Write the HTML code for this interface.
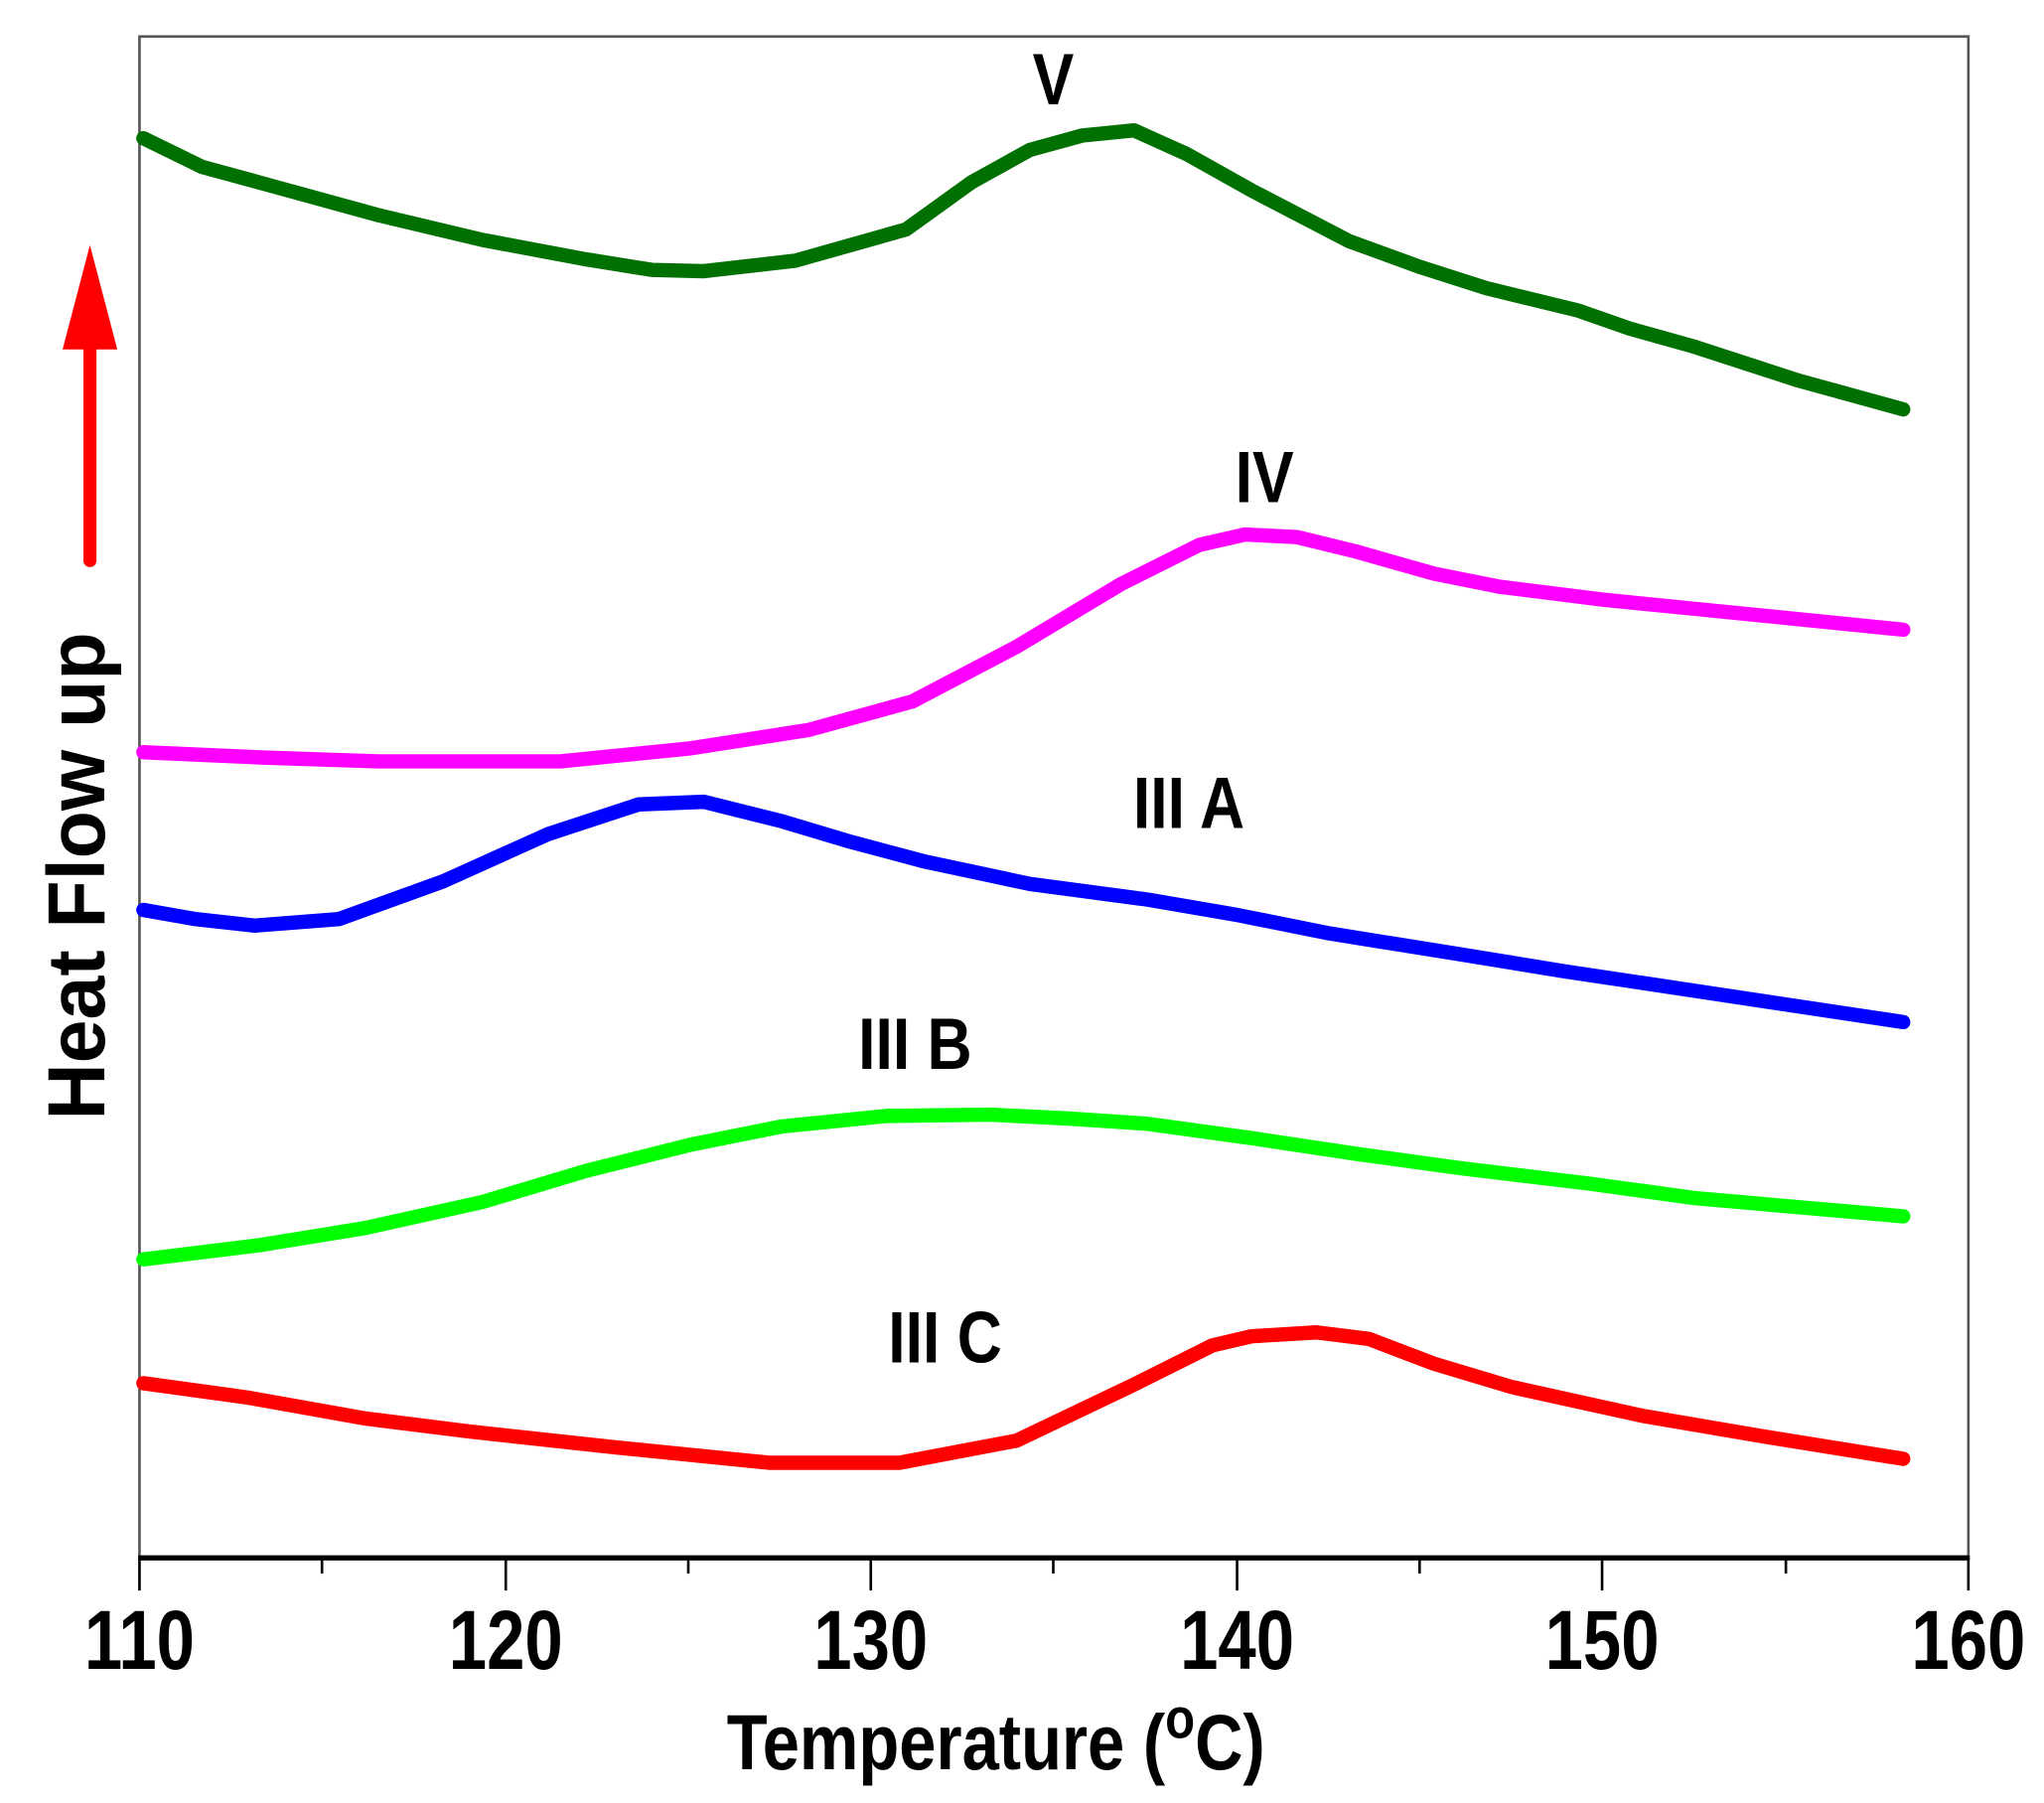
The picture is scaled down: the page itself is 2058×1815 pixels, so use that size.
<!DOCTYPE html>
<html><head><style>html,body{margin:0;padding:0;background:#fff;}svg{display:block;}</style></head>
<body>
<svg width="2058" height="1815" viewBox="0 0 1568 1383" preserveAspectRatio="none" xmlns="http://www.w3.org/2000/svg">
<rect width="1568" height="1383" fill="#fff"/>
<rect x="107" y="28" width="1403" height="1167" fill="none" stroke="#555" stroke-width="2"/>
<line x1="106" y1="1195" x2="1511" y2="1195" stroke="#000" stroke-width="4"/>
<g stroke="#000" stroke-width="2">
<line x1="107" y1="1195" x2="107" y2="1220"/><line x1="388" y1="1195" x2="388" y2="1220"/><line x1="668" y1="1195" x2="668" y2="1220"/><line x1="949" y1="1195" x2="949" y2="1220"/><line x1="1229" y1="1195" x2="1229" y2="1220"/><line x1="1510" y1="1195" x2="1510" y2="1220"/>
<line x1="247" y1="1195" x2="247" y2="1207"/><line x1="528" y1="1195" x2="528" y2="1207"/><line x1="808" y1="1195" x2="808" y2="1207"/><line x1="1089" y1="1195" x2="1089" y2="1207"/><line x1="1370" y1="1195" x2="1370" y2="1207"/>
</g>
<g font-family="Liberation Sans, Arial, sans-serif" font-weight="bold" font-size="64" text-anchor="middle" fill="#000">
<text transform="translate(107,1280) scale(0.82,1)">110</text>
<text transform="translate(388,1280) scale(0.82,1)">120</text>
<text transform="translate(668,1280) scale(0.82,1)">130</text>
<text transform="translate(949,1280) scale(0.82,1)">140</text>
<text transform="translate(1229,1280) scale(0.82,1)">150</text>
<text transform="translate(1510,1280) scale(0.82,1)">160</text>
<text transform="translate(764,1357) scale(0.85,1)" font-size="60">Temperature (<tspan font-size="44" dy="-24">o</tspan><tspan dy="24">C)</tspan></text>
<text transform="translate(80,672) rotate(-90) scale(0.97,1)" font-size="62">Heat Flow up</text>
<g font-size="56">
<text transform="translate(808,80) scale(0.85,1)">V</text>
<text transform="translate(970,385) scale(0.85,1)">IV</text>
<text transform="translate(912,635) scale(0.85,1)">III A</text>
<text transform="translate(702,820) scale(0.85,1)">III B</text>
<text transform="translate(725,1045) scale(0.85,1)">III C</text>
</g>
</g>
<line x1="69" y1="430" x2="69" y2="260" stroke="#f00" stroke-width="10" stroke-linecap="round"/>
<polygon points="69,188 48,268 90,268" fill="#f00"/>
<g fill="none" stroke-width="11" stroke-linejoin="round" stroke-linecap="round">
<polyline stroke="#007000" points="110,106 155,128 210,143 290,165 370,184 450,199 500,207 540,208 610,200 695,176 745,140 790,115 830,104 870,100 910,118 960,146 1035,185 1090,205 1140,221 1210,238 1250,252 1300,266 1380,292 1460,314"/>
<polyline stroke="#ff00ff" points="110,577 200,581 290,584 430,584 530,574 620,560 700,538 780,496 860,448 920,418 955,410 995,412 1040,423 1100,440 1150,450 1230,460 1300,467 1460,483"/>
<polyline stroke="#0000ff" points="110,698 150,705 195,710 260,705 340,676 420,640 490,617 540,615 600,630 650,645 710,661 790,678 880,690 950,702 1020,716 1120,732 1200,745 1300,760 1460,784"/>
<polyline stroke="#00ff00" points="110,966 200,955 280,942 370,922 450,898 530,878 600,864 680,856 760,855 820,858 880,862 960,873 1040,885 1120,896 1220,908 1300,919 1460,933"/>
<polyline stroke="#ff0000" points="110,1061 190,1072 280,1088 360,1098 470,1110 590,1122 690,1122 780,1105 870,1062 930,1032 960,1025 1010,1022 1050,1027 1100,1046 1160,1064 1260,1086 1360,1103 1460,1119"/>
</g>
</svg>
</body></html>
